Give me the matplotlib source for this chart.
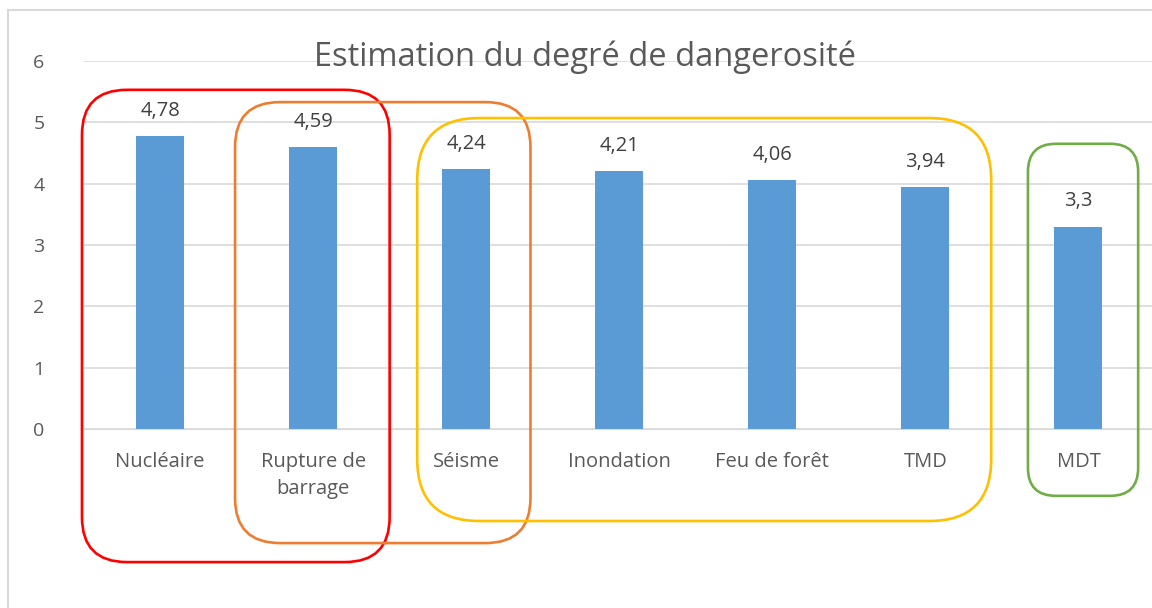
import numpy as np
import matplotlib
matplotlib.use("Agg")
import matplotlib.pyplot as plt
from matplotlib.patches import FancyBboxPatch
from matplotlib.lines import Line2D
from matplotlib.transforms import IdentityTransform

categories = ["Nucléaire", "Rupture de\nbarrage", "Séisme", "Inondation",
              "Feu de forêt", "TMD", "MDT"]
values = [4.78, 4.59, 4.24, 4.21, 4.06, 3.94, 3.3]
value_labels = ["4,78", "4,59", "4,24", "4,21", "4,06", "3,94", "3,3"]
yticks = [0, 1, 2, 3, 4, 5, 6]

# groups: (first cat, last cat, y low, y high, colour, corner radius px)
groups = [
    (-0.51, 1.50, -2.17, 5.53, "#ff0000", 45),
    (0.49, 2.42, -1.86, 5.33, "#ed7d31", 45),
    (1.68, 5.43, -1.50, 5.07, "#ffc000", 62),
    (5.67, 6.39, -1.09, 4.65, "#70ad47", 28),
]

plt.rcParams["font.family"] = ["Open Sans", "DejaVu Sans"]
W, H = 1152, 608
fig = plt.figure(figsize=(W / 100, H / 100), dpi=100)
ax = fig.add_axes([83.5 / W, (H - 429) / H, (1155 - 83.5) / W, 368 / H])

x = np.arange(len(categories))
ax.bar(x, values, width=0.314, color="#5b9bd5", zorder=2)
ax.set_xlim(-0.5, len(categories) - 0.5)
ax.set_ylim(0, 6)
ax.set_yticks(yticks)
ax.set_yticklabels([str(t) for t in yticks], fontsize=14, color="#595959")
ax.set_xticks(x)
ax.set_xticklabels(categories, fontsize=14.5, color="#595959", linespacing=1.5)
ax.tick_params(length=0, axis="y", pad=28)
ax.tick_params(length=0, axis="x", pad=16.5)
for lab in ax.get_xticklabels():
    lab.set_verticalalignment("top")
for s in ["top", "right", "left"]:
    ax.spines[s].set_visible(False)
ax.spines["bottom"].set_color("#d9d9d9")
ax.grid(axis="y", color="#d9d9d9", linewidth=1.2, zorder=0)
ax.set_axisbelow(True)

for xi, v, lab in zip(x, values, value_labels):
    ax.annotate(lab, (xi, v), xytext=(0, 11), textcoords="offset points",
                ha="center", va="bottom", fontsize=14.5, color="#404040")

fig.text(585 / W, 1 - 57 / H, "Estimation du degré de dangerosité",
         ha="center", va="center", fontsize=23.5, color="#595959")

# outer chart border
fig.add_artist(Line2D([8 / W, 8 / W], [0, 1 - 10 / H], transform=fig.transFigure,
                      color="#d9d9d9", linewidth=1.5))
fig.add_artist(Line2D([8 / W, 1], [1 - 10 / H, 1 - 10 / H], transform=fig.transFigure,
                      color="#d9d9d9", linewidth=1.5))

# rounded group boxes in pixel space
for x0, x1, y0, y1, col, rad in groups:
    (px0, py0), (px1, py1) = ax.transData.transform([(x0, y0), (x1, y1)])
    box = FancyBboxPatch((px0, py0), px1 - px0, py1 - py0,
                         boxstyle=f"round,pad=0,rounding_size={rad}",
                         transform=IdentityTransform(), fill=False,
                         edgecolor=col, linewidth=1.9, clip_on=False, zorder=5)
    fig.add_artist(box)

fig.savefig("out.png", dpi=100)
